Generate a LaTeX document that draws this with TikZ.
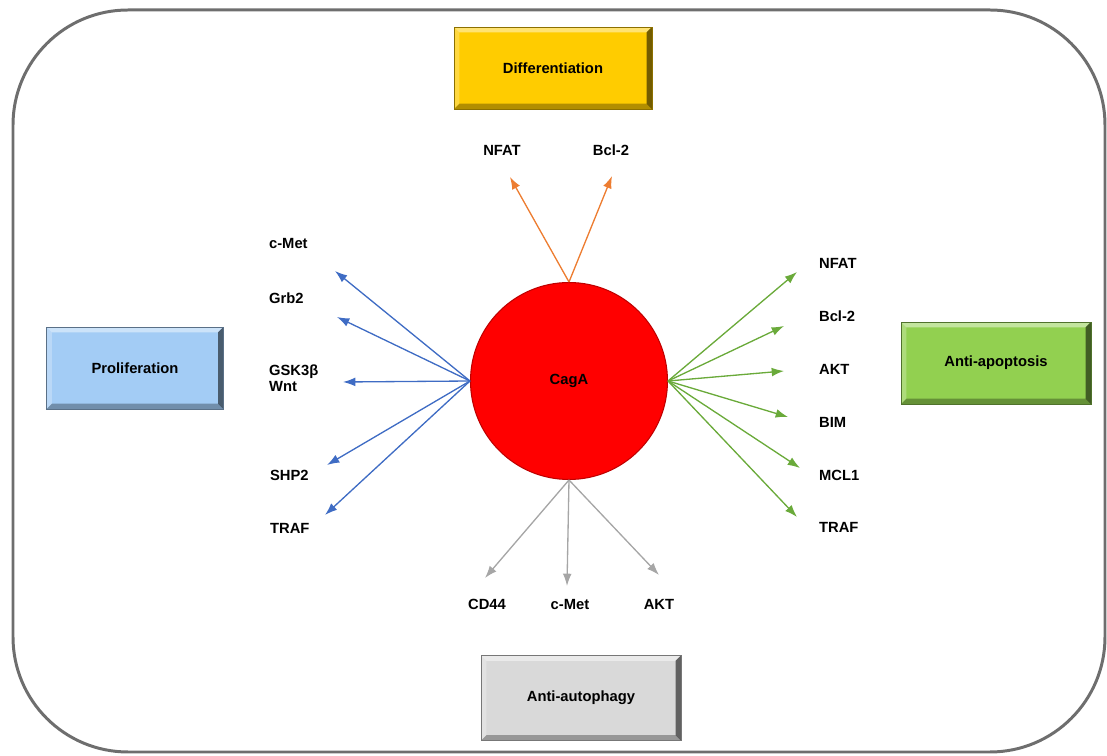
\documentclass[tikz,border=0pt]{standalone}
\usepackage{fontspec}
\setmainfont{Liberation Sans}
\usepackage{tikz}
\usetikzlibrary{arrows.meta, positioning}
\definecolor{diffgold}{HTML}{FFCC00}
\definecolor{prolblue}{HTML}{A3CCF5}
\definecolor{apopgreen}{HTML}{92D050}
\definecolor{autogray}{HTML}{D9D9D9}
\definecolor{arrorange}{HTML}{ED7D31}
\definecolor{arrblue}{HTML}{3F6CC4}
\definecolor{arrgreen}{HTML}{6AAA3A}
\definecolor{arrgray}{HTML}{A6A6A6}
\definecolor{framegray}{HTML}{6E6E6E}
\tikzset{
    >={Latex[length=7pt,width=5pt]}, % filled triangle tips
    every node/.style={font=\bfseries\fontsize{8.4}{9}\selectfont},
    bevelbox/.style={rectangle, fill=#1, draw=#1!55!black, line width=0.5pt,
        minimum height=1.64cm, inner sep=0pt,
        path picture={
            \fill[white, opacity=.45] (path picture bounding box.north west) -- (path picture bounding box.north east)
                -- ([xshift=-3pt,yshift=-3pt]path picture bounding box.north east) -- ([xshift=3pt,yshift=-3pt]path picture bounding box.north west) -- cycle;
            \fill[white, opacity=.25] (path picture bounding box.north west) -- ([xshift=3pt,yshift=-3pt]path picture bounding box.north west)
                -- ([xshift=3pt,yshift=3pt]path picture bounding box.south west) -- (path picture bounding box.south west) -- cycle;
            \fill[black, opacity=.55] (path picture bounding box.north east) -- (path picture bounding box.south east)
                -- ([xshift=-3pt,yshift=3pt]path picture bounding box.south east) -- ([xshift=-3pt,yshift=-3pt]path picture bounding box.north east) -- cycle;
            \fill[black, opacity=.3] (path picture bounding box.south west) -- (path picture bounding box.south east)
                -- ([xshift=-3pt,yshift=3pt]path picture bounding box.south east) -- ([xshift=3pt,yshift=3pt]path picture bounding box.south west) -- cycle;
        }},
    lbl/.style={inner sep=1pt},
    link/.style={draw=#1, fill=#1, line width=0.75pt, ->},
    fan/.style={every edge/.style={link=#1}}, % colours every edge of one path
}
\begin{document}
\begin{tikzpicture}[x=0.02cm, y=-0.02cm]
    \useasboundingbox (0,0) rectangle (1107,756);
    % outer frame
    \draw[framegray, line width=1.7pt, rounded corners=2.3cm] (13,10) rectangle (1105,752);

    % centre
    \node[circle, fill=red, draw=red!75!black, line width=0.6pt, minimum size=3.94cm, inner sep=0pt] (cagA) at (569,381) {CagA};

    % outcome boxes
    \node[bevelbox=diffgold, minimum width=3.96cm] (diff) at (553,68) {Differentiation};
    \node[bevelbox=prolblue, minimum width=3.54cm] (prolif) at (135,368) {Proliferation};
    \node[bevelbox=apopgreen, minimum width=3.8cm] (apop) at (996,363) {Anti-apoptosis};
    \node[bevelbox=autogray, minimum width=4cm, minimum height=1.7cm] (autoph) at (581,698) {Anti-autophagy};

    % differentiation targets
    \node[lbl] (dNFAT) at (502,150) {NFAT};
    \node[lbl] (dBcl) at (611,150) {Bcl-2};
    \coordinate (dt1) at (510,177);
    \coordinate (dt2) at (612,176);

    % proliferation targets
    \node[lbl, anchor=west] (pMet) at (267,244) {c-Met};
    \node[lbl, anchor=west] (pGrb) at (267,298) {Grb2};
    \node[lbl, anchor=west, align=left] (pGSK) at (267,378) {GSK3β\\Wnt};
    \node[lbl, anchor=west] (pSHP) at (268,475) {SHP2};
    \node[lbl, anchor=west] (pTRAF) at (268,528) {TRAF};
    \coordinate (pt1) at (335,271);
    \coordinate (pt2) at (337,317);
    \coordinate (pt3) at (343,382);
    \coordinate (pt4) at (327,465);
    \coordinate (pt5) at (325,515);

    % anti-apoptosis targets
    \node[lbl, anchor=west] (aNFAT) at (817,263) {NFAT};
    \node[lbl, anchor=west] (aBcl) at (817,316) {Bcl-2};
    \node[lbl, anchor=west] (aAKT) at (817,369) {AKT};
    \node[lbl, anchor=west] (aBIM) at (817,422) {BIM};
    \node[lbl, anchor=west] (aMCL) at (817,475) {MCL1};
    \node[lbl, anchor=west] (aTRAF) at (817,527) {TRAF};
    \coordinate (at1) at (797,272);
    \coordinate (at2) at (784,326);
    \coordinate (at3) at (784,371);
    \coordinate (at4) at (788,417);
    \coordinate (at5) at (800,468);
    \coordinate (at6) at (797,517);

    % anti-autophagy targets
    \node[lbl] (uCD) at (487,604) {CD44};
    \node[lbl] (uMet) at (570,604) {c-Met};
    \node[lbl] (uAKT) at (659,604) {AKT};
    \coordinate (ut1) at (485,578);
    \coordinate (ut2) at (567,586);
    \coordinate (ut3) at (659,575);

    % connectors
    \path[fan=arrorange]
        (cagA.north) edge (dt1)
        (cagA.north) edge (dt2);
    \path[fan=arrblue]
        (cagA.west) edge (pt1)
        (cagA.west) edge (pt2)
        (cagA.west) edge (pt3)
        (cagA.west) edge (pt4)
        (cagA.west) edge (pt5);
    \path[fan=arrgreen]
        (cagA.east) edge (at1)
        (cagA.east) edge (at2)
        (cagA.east) edge (at3)
        (cagA.east) edge (at4)
        (cagA.east) edge (at5)
        (cagA.east) edge (at6);
    \path[fan=arrgray]
        (cagA.south) edge (ut1)
        (cagA.south) edge (ut2)
        (cagA.south) edge (ut3);
\end{tikzpicture}
\end{document}
